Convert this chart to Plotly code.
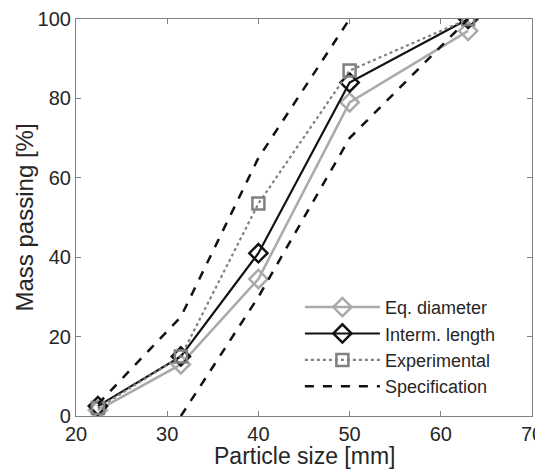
import plotly.graph_objects as go

sizes = [22.4, 31.5, 40, 50, 63]
eq_diameter = [1.5, 13, 34.5, 79, 97]
interm_length = [2.5, 15, 41, 84, 100]
experimental = [2, 15, 53.5, 87, 100]
spec_upper_x = [22.4, 31.5, 40, 50]
spec_upper_y = [3, 25, 65, 100]
spec_lower_x = [31.5, 40, 50, 63]
spec_lower_y = [0, 30, 70, 100]

fig = go.Figure()
fig.add_trace(go.Scatter(x=sizes, y=eq_diameter, name="Eq. diameter", mode="lines+markers",
                         line=dict(color="#aaaaaa", width=2.5),
                         marker=dict(symbol="diamond-open", size=14, color="#aaaaaa", line=dict(width=2.5))))
fig.add_trace(go.Scatter(x=sizes, y=interm_length, name="Interm. length", mode="lines+markers",
                         line=dict(color="#111111", width=2.2),
                         marker=dict(symbol="diamond-open", size=14, color="#111111", line=dict(width=2.5))))
fig.add_trace(go.Scatter(x=sizes, y=experimental, name="Experimental", mode="lines+markers",
                         line=dict(color="#808080", width=2.2, dash="dot"),
                         marker=dict(symbol="square-open", size=12, color="#808080", line=dict(width=2.5))))
fig.add_trace(go.Scatter(x=spec_upper_x, y=spec_upper_y, name="Specification", mode="lines",
                         line=dict(color="#111111", width=2.5, dash="dash")))
fig.add_trace(go.Scatter(x=spec_lower_x, y=spec_lower_y, name="Specification", mode="lines",
                         showlegend=False, line=dict(color="#111111", width=2.5, dash="dash")))

axis_common = dict(showgrid=False, zeroline=False, showline=True, mirror="ticks",
                   linecolor="#808080", linewidth=1.2, ticks="inside", ticklen=5,
                   tickcolor="#808080", tickfont=dict(size=20, color="#262626"),
                   automargin=False, ticklabeloverflow="allow")
fig.update_xaxes(range=[20, 70], tickvals=[20, 30, 40, 50, 60, 70], **axis_common)
fig.update_yaxes(range=[0, 100], tickvals=[0, 20, 40, 60, 80, 100], **axis_common)

fig.add_annotation(text="Particle size [mm]", xref="paper", yref="paper", x=0.5, y=0,
                   xanchor="center", yanchor="top", yshift=-25, showarrow=False,
                   font=dict(size=23, color="#262626"))
fig.add_annotation(text="Mass passing [%]", xref="paper", yref="paper", x=0, y=0.5,
                   xanchor="center", yanchor="middle", xshift=-52, textangle=-90,
                   showarrow=False, font=dict(size=24, color="#262626"))

fig.update_layout(
    width=535, height=461,
    margin=dict(l=68, r=11, t=11, b=53),
    plot_bgcolor="white", paper_bgcolor="white",
    font=dict(family="Liberation Sans, Arial, sans-serif", color="#262626"),
    legend=dict(x=0.491, y=0.028, xanchor="left", yanchor="bottom",
                bgcolor="rgba(255,255,255,0)", font=dict(size=18, color="#262626"),
                itemwidth=75, tracegroupgap=0),
    showlegend=True,
)

fig.write_html("out.html")
